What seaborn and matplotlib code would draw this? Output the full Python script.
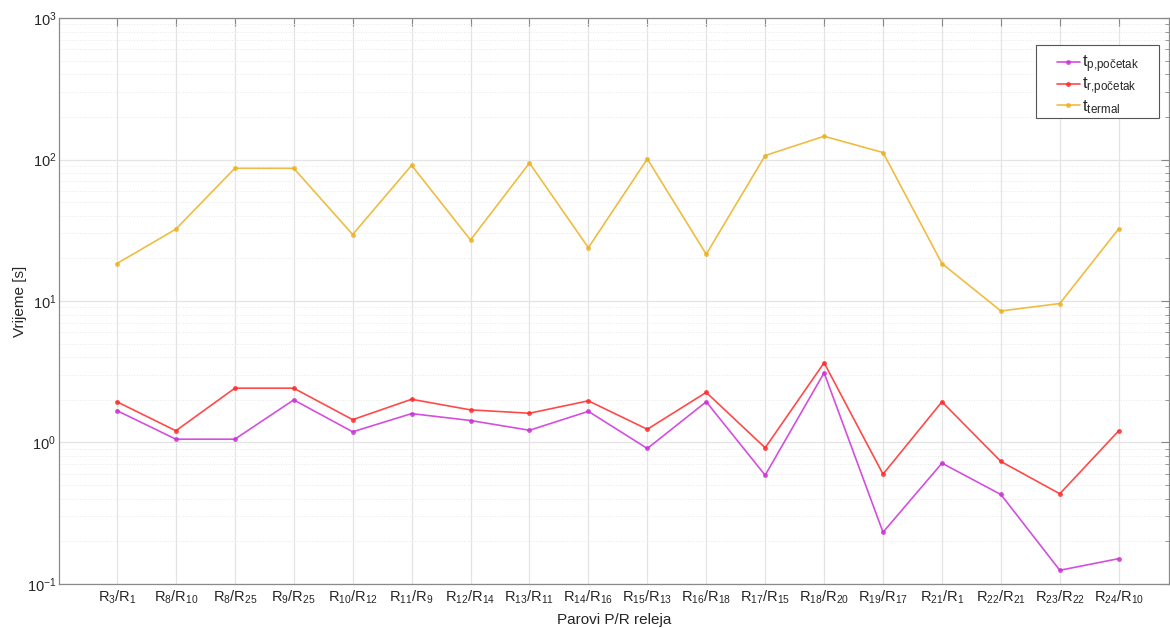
import numpy as np
import pandas as pd
import matplotlib
matplotlib.use("Agg")
import matplotlib.pyplot as plt
import seaborn as sns
from matplotlib.ticker import LogLocator, FixedLocator
from matplotlib.patches import Rectangle

# Relay pairs (primary / backup)
primary = [3, 8, 8, 9, 10, 11, 12, 13, 14, 15, 16, 17, 18, 19, 21, 22, 23, 24]
backup = [1, 10, 25, 25, 12, 9, 14, 11, 16, 13, 18, 15, 20, 17, 1, 21, 22, 10]

# Times in seconds
t_p_start = [1.68, 1.055, 1.055, 2.00, 1.19, 1.60, 1.43, 1.22, 1.66,
             0.907, 1.94, 0.587, 3.11, 0.232, 0.714, 0.429, 0.125, 0.151]
t_r_start = [1.94, 1.21, 2.42, 2.42, 1.45, 2.02, 1.70, 1.61, 1.97,
             1.24, 2.26, 0.917, 3.66, 0.597, 1.94, 0.734, 0.434, 1.21]
t_thermal = [18.4, 32.2, 86.7, 86.7, 29.5, 91.0, 27.0, 94.5, 23.8,
             101.0, 21.4, 106.7, 146.0, 112.0, 18.4, 8.5, 9.6, 32.4]

labels = [r"$\mathregular{R_{%d}/R_{%d}}$" % (p, b) for p, b in zip(primary, backup)]
series_names = [r"$\mathregular{t_{p{,}početak}}$",
                r"$\mathregular{t_{r{,}početak}}$",
                r"$\mathregular{t_{termal}}$"]
colors = ["#cc30d8", "#ff2a2a", "#edb120"]

pos = np.arange(len(labels))
df = pd.DataFrame({"pos": np.tile(pos, 3),
                   "t": t_p_start + t_r_start + t_thermal,
                   "serie": np.repeat(series_names, len(pos))})

sns.set_style("white")
plt.rcParams["font.family"] = ["Liberation Sans", "DejaVu Sans"]
plt.rcParams["mathtext.fontset"] = "custom"
plt.rcParams["mathtext.rm"] = "Liberation Sans"
plt.rcParams["mathtext.it"] = "Liberation Sans"

fig = plt.figure(figsize=(11.7, 6.28), dpi=100)
ax = fig.add_axes([0.0504, 0.0701, 0.9486, 0.9012])

sns.lineplot(data=df, x="pos", y="t", hue="serie", palette=colors,
             marker="o", markersize=3.5, markeredgewidth=0,
             linewidth=1.2, alpha=0.85, ax=ax)

ax.set_yscale("log")
ax.set_ylim(0.1, 1000)
ax.set_xlim(-0.984, 17.85)

ax.xaxis.set_major_locator(FixedLocator(pos))
ax.set_xticklabels(labels, fontsize=10.5, color="#262626")
ax.yaxis.set_major_locator(LogLocator(base=10, numticks=10))
ax.yaxis.set_minor_locator(LogLocator(base=10, subs=np.arange(2, 10), numticks=20))
ax.tick_params(axis="y", labelsize=10.5, labelcolor="#262626", pad=2)

ax.tick_params(which="both", direction="in", top=True, right=True, color="#888888")
ax.tick_params(which="major", length=6, width=0.8)
ax.tick_params(which="minor", length=3, width=0.6)

ax.grid(True, which="major", color="#e4e4e4", linewidth=0.9, linestyle="-")
ax.grid(True, which="minor", axis="y", color="#e8e8e8", linewidth=0.7, linestyle=":")
ax.set_axisbelow(True)

for s in ax.spines.values():
    s.set_color("#8a8a8a")
    s.set_linewidth(0.9)

ax.set_xlabel("Parovi P/R releja", fontsize=11, color="#262626", labelpad=5)
ax.set_ylabel("Vrijeme [s]", fontsize=11, color="#262626", labelpad=0)

# Legend box drawn separately for wider side margins
ax.add_patch(Rectangle((0.880, 0.823), 0.111, 0.129, transform=ax.transAxes,
                       facecolor="white", edgecolor="#555555", linewidth=0.8,
                       zorder=4.5))
leg = ax.legend(loc="upper left", bbox_to_anchor=(0.899, 0.937), borderaxespad=0,
                fontsize=12, frameon=False, handlelength=1.4, handletextpad=0.12,
                labelspacing=0.03, borderpad=0)
leg.set_zorder(5)

fig.savefig("out.png", dpi=100)
